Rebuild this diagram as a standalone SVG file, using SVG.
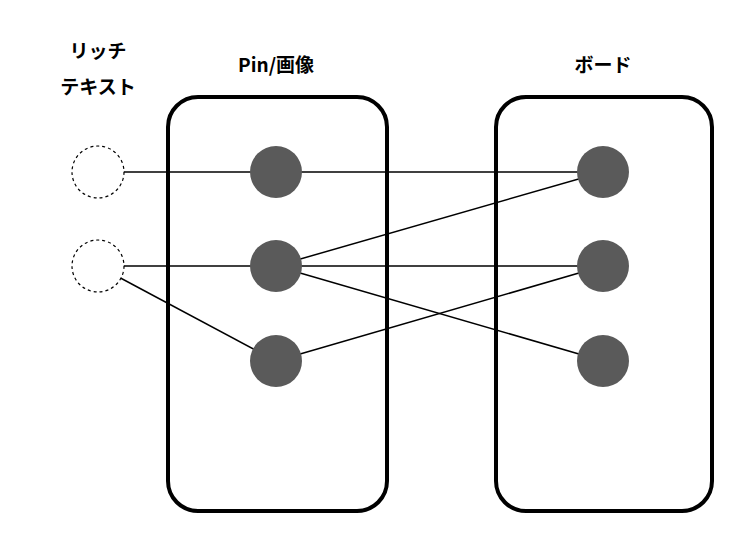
<svg xmlns="http://www.w3.org/2000/svg" width="753" height="549" viewBox="0 0 753 549">
<style>
.box{fill:none;stroke:#000;stroke-width:4}
.dot{fill:#5a5a5a}
.ghost{fill:#fff;stroke:#000;stroke-width:1.2;stroke-dasharray:3 3}
.lbl{font-family:"Noto Sans CJK JP","Liberation Sans",sans-serif;font-weight:bold;font-size:19px;text-anchor:middle;fill:#000}
#connectors line{stroke:#000;stroke-width:1.5}
</style>
<rect width="753" height="549" fill="#fff"/>
<g id="connectors">
<line x1="98" y1="172" x2="603" y2="172"/>
<line x1="98" y1="266" x2="603" y2="266"/>
<line x1="98" y1="266" x2="276" y2="361"/>
<line x1="276" y1="266" x2="603" y2="172"/>
<line x1="276" y1="266" x2="603" y2="361"/>
<line x1="276" y1="361" x2="603" y2="266"/>
</g>
<g id="pin"><rect class="box" x="168" y="97" width="219" height="414" rx="30"/><text class="lbl" x="276" y="72">Pin/画像</text></g>
<g id="board"><rect class="box" x="496" y="97" width="216" height="414" rx="30"/><text class="lbl" x="603" y="72">ボード</text></g>
<g id="rich"><text class="lbl" x="98" y="58">リッチ</text><text class="lbl" x="98" y="94">テキスト</text>
<circle class="ghost" cx="98" cy="172" r="26"/><circle class="ghost" cx="98" cy="266" r="26"/></g>
<g id="pin1"><circle class="dot" cx="276" cy="172" r="26"/></g>
<g id="pin2"><circle class="dot" cx="276" cy="266" r="26"/></g>
<g id="pin3"><circle class="dot" cx="276" cy="361" r="26"/></g>
<g id="board1"><circle class="dot" cx="603" cy="172" r="26"/></g>
<g id="board2"><circle class="dot" cx="603" cy="266" r="26"/></g>
<g id="board3"><circle class="dot" cx="603" cy="361" r="26"/></g>
</svg>
